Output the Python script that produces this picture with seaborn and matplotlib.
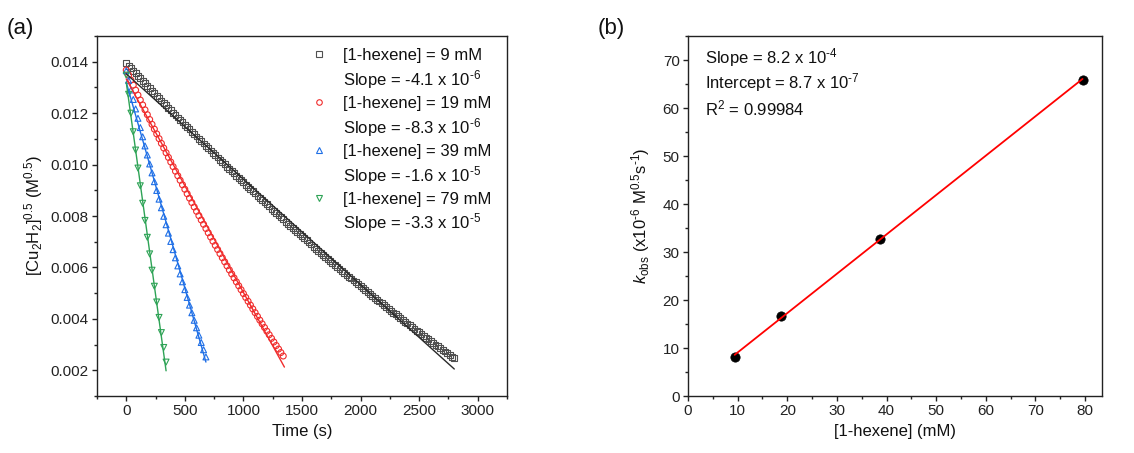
import numpy as np
import pandas as pd
import matplotlib
matplotlib.use("Agg")
import matplotlib.pyplot as plt
from matplotlib.ticker import MultipleLocator, FormatStrFormatter
from matplotlib.lines import Line2D
import seaborn as sns

# ---------------------------------------------------------------------------
# (a) decay traces of [Cu2H2]^0.5, sampled every 20 s (values in 1e-6 M^0.5)
# ---------------------------------------------------------------------------
sample_step_s = 20

trace_9mM = [
    13948, 13849, 13751, 13653, 13555, 13457, 13360, 13262, 13165, 13069,
    12972, 12876, 12780, 12684, 12588, 12493, 12398, 12303, 12208, 12114,
    12020, 11926, 11832, 11739, 11646, 11553, 11460, 11368, 11276, 11184,
    11092, 11001, 10909, 10818, 10728, 10637, 10547, 10457, 10367, 10277,
    10188, 10099, 10010, 9921, 9833, 9745, 9657, 9569, 9482, 9395,
    9308, 9221, 9135, 9049, 8963, 8877, 8792, 8706, 8621, 8537,
    8452, 8368, 8284, 8200, 8116, 8033, 7950, 7867, 7784, 7702,
    7620, 7538, 7456, 7375, 7294, 7213, 7132, 7052, 6972, 6892,
    6812, 6733, 6653, 6574, 6496, 6417, 6339, 6261, 6183, 6105,
    6028, 5951, 5874, 5797, 5721, 5645, 5569, 5493, 5418, 5343,
    5268, 5193, 5119, 5045, 4971, 4897, 4824, 4750, 4677, 4605,
    4532, 4460, 4388, 4316, 4244, 4173, 4102, 4031, 3960, 3890,
    3820, 3750, 3680, 3611, 3542, 3473, 3404, 3336, 3268, 3200,
    3132, 3065, 2997, 2930, 2864, 2797, 2731, 2665, 2599, 2533,
    2468,
]
trace_19mM = [
    13677, 13480, 13285, 13090, 12896, 12703, 12511, 12320, 12130, 11941,
    11753, 11566, 11379, 11194, 11009, 10826, 10643, 10461, 10280, 10100,
    9921, 9743, 9566, 9390, 9215, 9041, 8867, 8695, 8523, 8352,
    8183, 8014, 7846, 7679, 7513, 7348, 7184, 7021, 6858, 6697,
    6537, 6377, 6219, 6061, 5904, 5748, 5594, 5440, 5287, 5134,
    4983, 4833, 4684, 4535, 4388, 4241, 4096, 3951, 3807, 3664,
    3522, 3382, 3241, 3102, 2964, 2827, 2690, 2555,
]
trace_39mM = [
    13650, 13274, 12901, 12531, 12164, 11800, 11439, 11081, 10725, 10373,
    10024, 9677, 9334, 8993, 8655, 8321, 7989, 7660, 7334, 7011,
    6691, 6374, 6060, 5749, 5441, 5135, 4833, 4534, 4237, 3944,
    3653, 3365, 3081, 2799, 2520,
]
trace_79mM = [
    13480, 12735, 12001, 11278, 10566, 9865, 9176, 8497, 7830, 7173,
    6528, 5893, 5270, 4658, 4057, 3467, 2888, 2320,
]

HY = "\u2010"  # plain hyphen inside superscripts

legend_conc = ["9", "19", "39", "79"]
fit_slopes = [-4.1e-6, -8.3e-6, -1.6e-5, -3.3e-5]
fit_slope_text = ["-4.1 x 10$^{" + HY + "6}$", "-8.3 x 10$^{" + HY + "6}$",
                  "-1.6 x 10$^{" + HY + "5}$", "-3.3 x 10$^{" + HY + "5}$"]
fit_intercepts = [0.01353, 0.01333, 0.0132, 0.0132]
fit_t_end = [2800, 1350, 680, 340]

# ---------------------------------------------------------------------------
# (b) observed rate constant vs alkene concentration
# ---------------------------------------------------------------------------
hexene_mM = [9.4, 18.7, 38.6, 79.5]
kobs_e6 = [8.2, 16.6, 32.7, 65.8]
kobs_slope = 8.2e-4       # M^0.5 s^-1 per M
kobs_intercept = 8.7e-7   # M^0.5 s^-1
kobs_r2 = "0.99984"

# ---------------------------------------------------------------------------
sns.set_style("ticks")
plt.rcParams.update({
    "font.family": ["Liberation Sans", "DejaVu Sans"],
    "mathtext.fontset": "custom",
    "mathtext.rm": "Liberation Sans",
    "mathtext.it": "Liberation Sans:italic",
    "mathtext.bf": "Liberation Sans:bold",
    "mathtext.default": "regular",
    "axes.edgecolor": "#222222",
    "axes.linewidth": 1.0,
    "xtick.color": "#222222",
    "ytick.color": "#222222",
    "xtick.direction": "out",
    "ytick.direction": "out",
    "xtick.major.size": 3.5,
    "ytick.major.size": 3.5,
    "xtick.minor.size": 2.0,
    "ytick.minor.size": 2.0,
    "xtick.major.width": 1.0,
    "ytick.major.width": 1.0,
    "xtick.minor.width": 1.0,
    "ytick.minor.width": 1.0,
    "xtick.major.pad": 2.5,
    "ytick.major.pad": 2.5,
    "xtick.labelsize": 11,
    "ytick.labelsize": 11,
    "axes.labelsize": 12,
    "text.color": "#111111",
    "axes.labelcolor": "#111111",
})

fig = plt.figure(figsize=(11.34, 4.53), dpi=100)
ax_a = fig.add_axes([0.0855, 0.1258, 0.3616, 0.7947])
ax_b = fig.add_axes([0.6067, 0.1258, 0.3650, 0.7947])

colors = ["#505050", "#f02c2c", "#1f6fe6", "#2ea356"]
line_colors = ["#2a2a2a", "#f02c2c", "#1f6fe6", "#2ea356"]
markers = ["s", "o", "^", "v"]
traces = [trace_9mM, trace_19mM, trace_39mM, trace_79mM]

frames = []
for conc, tr in zip(legend_conc, traces):
    vals = np.asarray(tr, dtype=float) * 1e-6
    frames.append(pd.DataFrame({
        "time": np.arange(len(vals)) * sample_step_s,
        "value": vals,
        "conc": conc,
    }))
df_a = pd.concat(frames, ignore_index=True)

handles, labels = [], []
for i, conc in enumerate(legend_conc):
    sub = df_a[df_a["conc"] == conc]
    # linear fit drawn from the reported slope
    t_fit = np.array([0.0, fit_t_end[i]])
    fit_df = pd.DataFrame({"time": t_fit,
                           "value": fit_intercepts[i] + fit_slopes[i] * t_fit})
    sns.lineplot(data=fit_df, x="time", y="value", ax=ax_a,
                 color=line_colors[i], lw=1.0, zorder=3)
    sns.scatterplot(data=sub, x="time", y="value", ax=ax_a,
                    marker=markers[i], s=18, facecolor="none",
                    edgecolor=colors[i], linewidth=0.8, zorder=2)
    handles.append(Line2D([], [], ls="none", marker=markers[i], ms=4,
                          mfc="none", mec=colors[i], mew=0.8))
    labels.append(f"[1-hexene] = {conc} mM")
    handles.append(Line2D([], [], ls="none", marker=None))
    labels.append(f"Slope = {fit_slope_text[i]}")

ax_a.set_xlim(-250, 3250)
ax_a.set_ylim(0.001, 0.015)
ax_a.xaxis.set_major_locator(MultipleLocator(500))
ax_a.xaxis.set_minor_locator(MultipleLocator(250))
ax_a.yaxis.set_major_locator(MultipleLocator(0.002))
ax_a.yaxis.set_minor_locator(MultipleLocator(0.001))
ax_a.yaxis.set_major_formatter(FormatStrFormatter("%.3f"))
ax_a.set_xlabel("Time (s)", labelpad=4)
ax_a.set_ylabel("[Cu$_2$H$_2$]$^{0.5}$ (M$^{0.5}$)", labelpad=4)
ax_a.legend(handles, labels, loc="upper left", bbox_to_anchor=(0.52, 0.967),
            frameon=False, fontsize=12, handlelength=1.0, handletextpad=0.94,
            labelspacing=0.3, borderpad=0, borderaxespad=0)

# ---- panel (b)
df_b = pd.DataFrame({"hexene": hexene_mM, "kobs": kobs_e6})
x_fit = np.array([min(hexene_mM), max(hexene_mM)])
# slope per M -> per mM, and rates scaled to 1e-6 units
fit_b = pd.DataFrame({
    "hexene": x_fit,
    "kobs": (kobs_slope * 1e-3 * x_fit + kobs_intercept) * 1e6,
})
sns.scatterplot(data=df_b, x="hexene", y="kobs", ax=ax_b, color="black",
                s=45, edgecolor="black", linewidth=0.5, zorder=2)
sns.lineplot(data=fit_b, x="hexene", y="kobs", ax=ax_b, color="#ff0000",
             lw=1.3, zorder=3)

ax_b.set_xlim(0, 83.4)
ax_b.set_ylim(0, 75)
ax_b.xaxis.set_major_locator(MultipleLocator(10))
ax_b.xaxis.set_minor_locator(MultipleLocator(5))
ax_b.yaxis.set_major_locator(MultipleLocator(10))
ax_b.yaxis.set_minor_locator(MultipleLocator(5))
ax_b.set_xlabel("[1-hexene] (mM)", labelpad=4)
ax_b.set_ylabel(r"$\mathit{k}_{obs}$ (x10$^{" + HY + "6}$ M$^{0.5}$s$^{"
                + HY + "1}$)", labelpad=8)

ann = ["Slope = 8.2 x 10$^{" + HY + "4}$",
       "Intercept = 8.7 x 10$^{" + HY + "7}$",
       "R$^2$ = " + kobs_r2]
for j, txt in enumerate(ann):
    ax_b.text(0.04, 0.939 - j * 0.0695, txt, transform=ax_b.transAxes,
              fontsize=12, va="center", ha="left")

for ax in (ax_a, ax_b):
    ax.tick_params(which="both", top=False, right=False)
    for s in ax.spines.values():
        s.set_visible(True)

fig.text(0.006, 0.938, "(a)", fontsize=16, va="center", ha="left")
fig.text(0.527, 0.938, "(b)", fontsize=16, va="center", ha="left")

fig.savefig("out.png", dpi=100)
